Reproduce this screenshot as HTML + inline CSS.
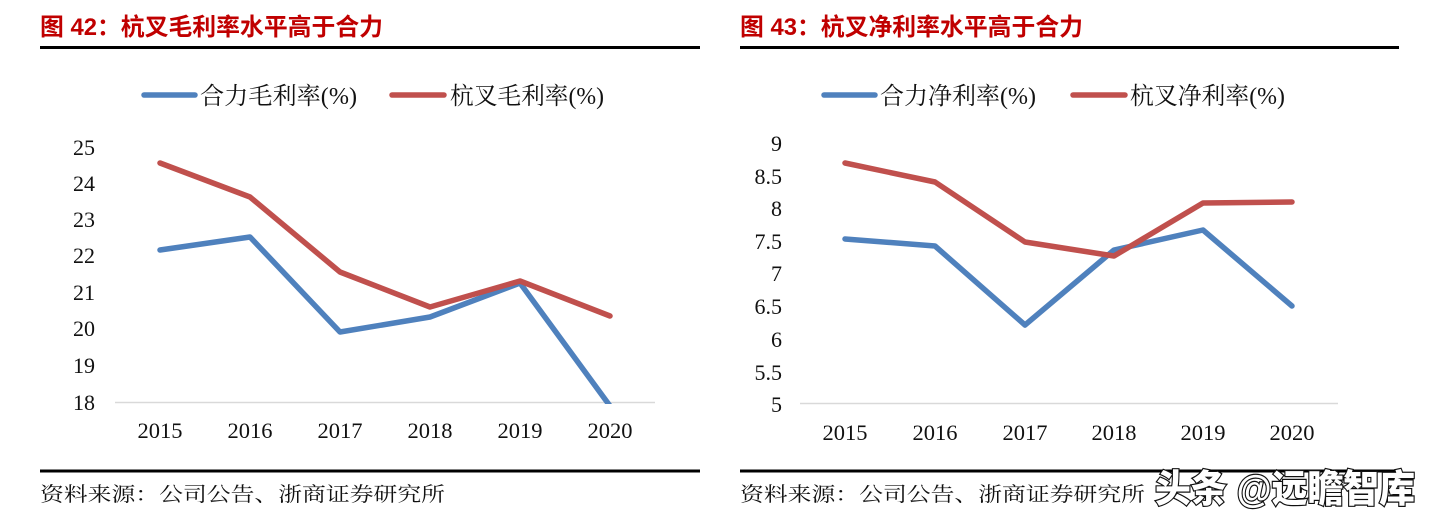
<!DOCTYPE html>
<html>
<head>
<meta charset="utf-8">
<style>
  html,body{margin:0;padding:0;background:#fff;}
  svg{display:block;}
  .title{font-family:"Liberation Sans","Noto Sans CJK SC",sans-serif;font-weight:bold;font-size:24px;fill:#C00000;}
  .leg{font-family:"Liberation Serif","Noto Serif CJK SC",serif;font-size:24px;fill:#111;}
  .tick{font-family:"Liberation Serif","Noto Serif CJK SC",serif;font-size:22px;fill:#111;}
  .foot{font-family:"Liberation Serif","Noto Serif CJK SC",serif;font-size:20px;fill:#111;}
  .wm{font-family:"Liberation Sans","Noto Sans CJK SC",sans-serif;font-weight:900;font-size:38px;fill:#fff;stroke:#111;stroke-width:2.4px;paint-order:stroke;}
</style>
</head>
<body>
<svg width="1433" height="521" viewBox="0 0 1433 521" xmlns="http://www.w3.org/2000/svg">
  <rect x="0" y="0" width="1433" height="521" fill="#fff"/>

  <!-- ===== LEFT CHART ===== -->
  <text class="title" x="40" y="35" textLength="343" lengthAdjust="spacingAndGlyphs">图 42：杭叉毛利率水平高于合力</text>
  <rect x="40" y="46" width="660" height="3" fill="#000"/>

  <line x1="144" y1="95" x2="195" y2="95" stroke="#4F81BD" stroke-width="5.5" stroke-linecap="round"/>
  <text class="leg" x="200" y="104" textLength="157" lengthAdjust="spacingAndGlyphs">合力毛利率(%)</text>
  <line x1="392" y1="95" x2="444" y2="95" stroke="#C0504D" stroke-width="5.5" stroke-linecap="round"/>
  <text class="leg" x="450" y="104" textLength="154" lengthAdjust="spacingAndGlyphs">杭叉毛利率(%)</text>

  <g class="tick" text-anchor="end">
    <text x="95" y="155">25</text>
    <text x="95" y="191">24</text>
    <text x="95" y="227">23</text>
    <text x="95" y="263">22</text>
    <text x="95" y="300">21</text>
    <text x="95" y="336">20</text>
    <text x="95" y="373">19</text>
    <text x="95" y="410">18</text>
  </g>
  <line x1="115" y1="402.5" x2="655" y2="402.5" stroke="#D9D9D9" stroke-width="1.5"/>
  <g class="tick" text-anchor="middle" style="font-size:22.5px">
    <text x="160" y="438">2015</text>
    <text x="250" y="438">2016</text>
    <text x="340" y="438">2017</text>
    <text x="430" y="438">2018</text>
    <text x="520" y="438">2019</text>
    <text x="610" y="438">2020</text>
  </g>
  <defs>
    <clipPath id="cl"><rect x="100" y="120" width="580" height="284"/></clipPath>
  </defs>
  <polyline clip-path="url(#cl)" points="160,250 250,237 340,332 430,317 520,283 610,406" fill="none" stroke="#4F81BD" stroke-width="5.5" stroke-linejoin="round" stroke-linecap="round"/>
  <polyline points="160,163 250,197 340,272 430,307 520,281 610,316" fill="none" stroke="#C0504D" stroke-width="5.5" stroke-linejoin="round" stroke-linecap="round"/>

  <rect x="40" y="469.5" width="660" height="3" fill="#000"/>
  <text class="foot" x="40" y="501" textLength="405" lengthAdjust="spacingAndGlyphs">资料来源：公司公告、浙商证券研究所</text>

  <!-- ===== RIGHT CHART ===== -->
  <text class="title" x="740" y="35" textLength="343" lengthAdjust="spacingAndGlyphs">图 43：杭叉净利率水平高于合力</text>
  <rect x="740" y="46" width="659" height="3" fill="#000"/>

  <line x1="824" y1="95" x2="875" y2="95" stroke="#4F81BD" stroke-width="5.5" stroke-linecap="round"/>
  <text class="leg" x="880" y="104" textLength="156" lengthAdjust="spacingAndGlyphs">合力净利率(%)</text>
  <line x1="1073" y1="95" x2="1125" y2="95" stroke="#C0504D" stroke-width="5.5" stroke-linecap="round"/>
  <text class="leg" x="1130" y="104" textLength="155" lengthAdjust="spacingAndGlyphs">杭叉净利率(%)</text>

  <g class="tick" text-anchor="end">
    <text x="782" y="151">9</text>
    <text x="782" y="184">8.5</text>
    <text x="782" y="216">8</text>
    <text x="782" y="249">7.5</text>
    <text x="782" y="281">7</text>
    <text x="782" y="314">6.5</text>
    <text x="782" y="347">6</text>
    <text x="782" y="380">5.5</text>
    <text x="782" y="412">5</text>
  </g>
  <line x1="800" y1="403.5" x2="1338" y2="403.5" stroke="#D9D9D9" stroke-width="1.5"/>
  <g class="tick" text-anchor="middle" style="font-size:22.5px">
    <text x="845" y="440">2015</text>
    <text x="935" y="440">2016</text>
    <text x="1025" y="440">2017</text>
    <text x="1114" y="440">2018</text>
    <text x="1203" y="440">2019</text>
    <text x="1292" y="440">2020</text>
  </g>
  <polyline points="845,239 935,246 1025,325 1114,250 1203,230 1292,306" fill="none" stroke="#4F81BD" stroke-width="5.5" stroke-linejoin="round" stroke-linecap="round"/>
  <polyline points="845,163 935,182 1025,242 1114,256 1203,203 1292,202" fill="none" stroke="#C0504D" stroke-width="5.5" stroke-linejoin="round" stroke-linecap="round"/>

  <rect x="740" y="469.5" width="659" height="3" fill="#000"/>
  <text class="foot" x="740" y="501" textLength="405" lengthAdjust="spacingAndGlyphs">资料来源：公司公告、浙商证券研究所</text>

  <text class="wm" x="1155" y="502" textLength="260" lengthAdjust="spacingAndGlyphs">头条 @远瞻智库</text>
</svg>
</body>
</html>
